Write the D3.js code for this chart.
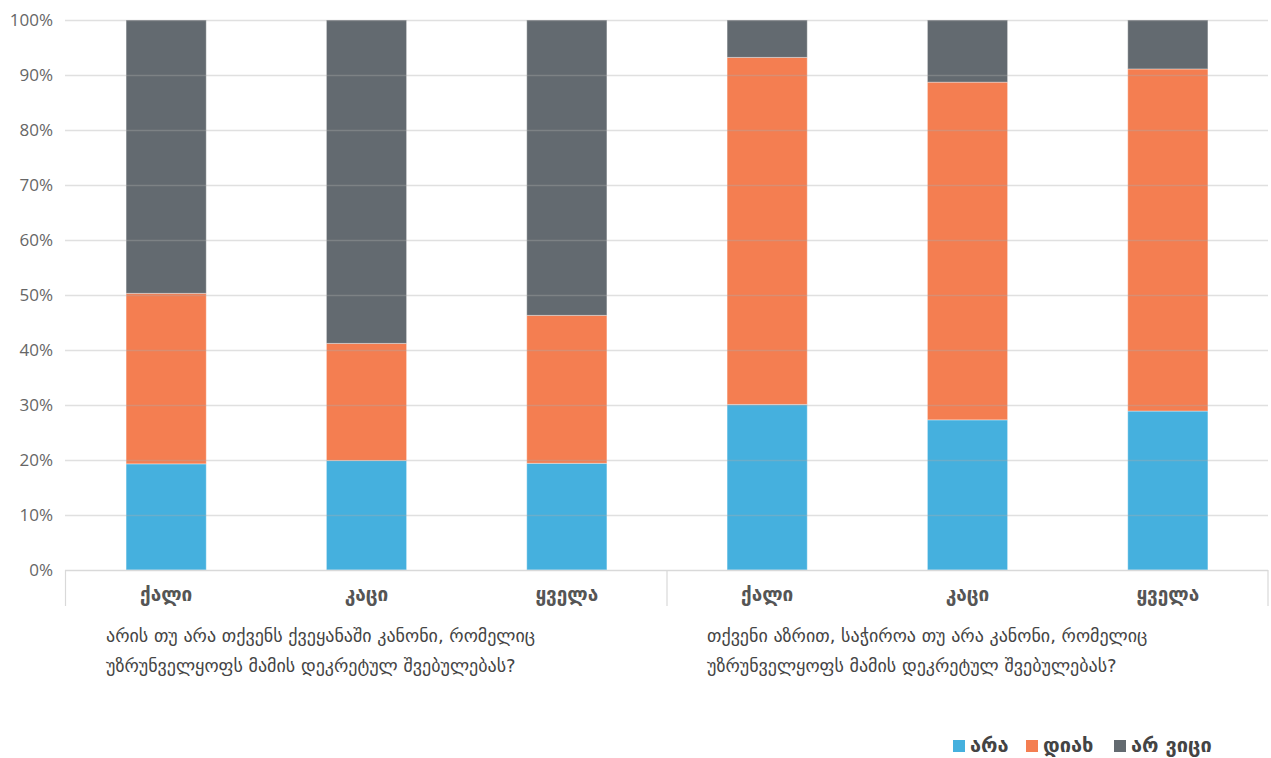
<!DOCTYPE html>
<html>
<head>
<meta charset="utf-8">
<script src="https://cdn.jsdelivr.net/npm/d3@7"></script>
<style>
  html, body { margin: 0; padding: 0; background: #fff; }
  svg { display: block; }
</style>
</head>
<body>
<svg id="chart" width="1271" height="758"></svg>
<script>
// Survey answers, percent of respondents, per bar (question group × respondent group)
const groups = ["ქალი", "კაცი", "ყველა", "ქალი", "კაცი", "ყველა"];
const questionIndex = [0, 0, 0, 1, 1, 1];
const seriesNames = ["არა", "დიახ", "არ ვიცი"];
const noValues = [19.3, 19.9, 19.4, 30.1, 27.3, 28.9];
const yesValues = [31.0, 21.3, 26.9, 63.1, 61.4, 62.2];
const dontKnowValues = [49.7, 58.8, 53.7, 6.8, 11.3, 8.9];
const questions = [
  ["არის თუ არა თქვენს ქვეყანაში კანონი, რომელიც", "უზრუნველყოფს მამის დეკრეტულ შვებულებას?"],
  ["თქვენი აზრით, საჭიროა თუ არა კანონი, რომელიც", "უზრუნველყოფს მამის დეკრეტულ შვებულებას?"]
];
const yTicks = [0, 10, 20, 30, 40, 50, 60, 70, 80, 90, 100];
const colors = ["#45b0de", "#f47e51", "#636a70"];

const svg = d3.select("#chart");
const W = 1271, H = 758;
const x0 = 66, x1 = 1268;
const yTop = 20, yBot = 570;

const rows = groups.map((g, i) => ({
  key: i, group: g, q: questionIndex[i],
  "არა": noValues[i], "დიახ": yesValues[i], "არ ვიცი": dontKnowValues[i]
}));

const x = d3.scaleBand().domain(rows.map(d => d.key)).range([x0, x1]).paddingInner(0.6).paddingOuter(0.3);
const y = d3.scaleLinear().domain([0, 100]).range([yBot, yTop]);
const layers = d3.stack().keys(seriesNames)(rows);

const georgian = "'DejaVu Sans', sans-serif";

// y axis labels
const yAxis = d3.axisLeft(y).tickValues(yTicks).tickFormat(d => d + "%").tickSize(0).tickPadding(13);
const yG = svg.append("g").attr("transform", `translate(${x0},0)`).call(yAxis);
yG.select(".domain").remove();
yG.selectAll("text")
  .attr("font-family", "'Open Sans', sans-serif")
  .attr("font-size", 17)
  .attr("fill", "#666");

// bars
svg.append("g").selectAll("g")
  .data(layers)
  .join("g")
  .attr("fill", (d, i) => colors[i])
  .selectAll("rect")
  .data(d => d)
  .join("rect")
  .attr("x", d => x(d.data.key))
  .attr("width", x.bandwidth())
  .attr("y", d => y(d[1]))
  .attr("height", d => y(d[0]) - y(d[1]))
  .attr("stroke", "rgba(255,255,255,0.35)")
  .attr("stroke-width", 1);

// gridlines, semi-transparent so they show faintly across the bars
const grid = d3.axisLeft(y).tickValues(yTicks.filter(t => t > 0)).tickSize(-(x1 - x0 + 1)).tickFormat("");
const gG = svg.append("g").attr("transform", `translate(${x0 - 1},0)`).call(grid);
gG.select(".domain").remove();
gG.selectAll("line").attr("stroke", "rgba(170,170,170,0.37)").attr("stroke-width", 1.5);

// baseline and group separators
svg.append("line")
  .attr("x1", x0 - 1).attr("x2", x1).attr("y1", y(0) + 0.5).attr("y2", y(0) + 0.5)
  .attr("stroke", "#d9d9d9").attr("stroke-width", 1.5);
const step = (x1 - x0) / groups.length;
const sepX = [x0 - 0.5, x0 + step * 3, x1];
svg.append("g").selectAll("line")
  .data(sepX)
  .join("line")
  .attr("x1", d => d).attr("x2", d => d)
  .attr("y1", y(0)).attr("y2", y(0) + 36)
  .attr("stroke", "#d9d9d9").attr("stroke-width", 1.2);

// category labels
svg.append("g").selectAll("text")
  .data(rows)
  .join("text")
  .attr("x", d => x(d.key) + x.bandwidth() / 2)
  .attr("y", y(0) + 31)
  .attr("text-anchor", "middle")
  .attr("font-family", georgian)
  .attr("font-weight", "bold")
  .attr("font-size", 19)
  .attr("fill", "#555")
  .text(d => d.group);

// question captions under each group
const qG = svg.append("g").selectAll("text")
  .data(questions)
  .join("text")
  .attr("font-family", georgian)
  .attr("font-size", 18)
  .attr("fill", "#444");
qG.selectAll("tspan")
  .data((d, i) => d.map(line => ({ line, i })))
  .join("tspan")
  .attr("x", d => x0 - 1 + d.i * step * 3 + 41)
  .attr("y", (d, j) => 642 + j * 30)
  .text(d => d.line);

// legend
const legendX = [953, 1026, 1114];
const lg = svg.append("g").selectAll("g")
  .data(seriesNames)
  .join("g")
  .attr("transform", (d, i) => `translate(${legendX[i]},740)`);
lg.append("rect").attr("width", 12).attr("height", 12).attr("fill", (d, i) => colors[i]);
lg.append("text")
  .attr("x", 17).attr("y", 12)
  .attr("font-family", georgian)
  .attr("font-weight", "bold")
  .attr("font-size", 20)
  .attr("fill", "#444")
  .text(d => d);
</script>
</body>
</html>
